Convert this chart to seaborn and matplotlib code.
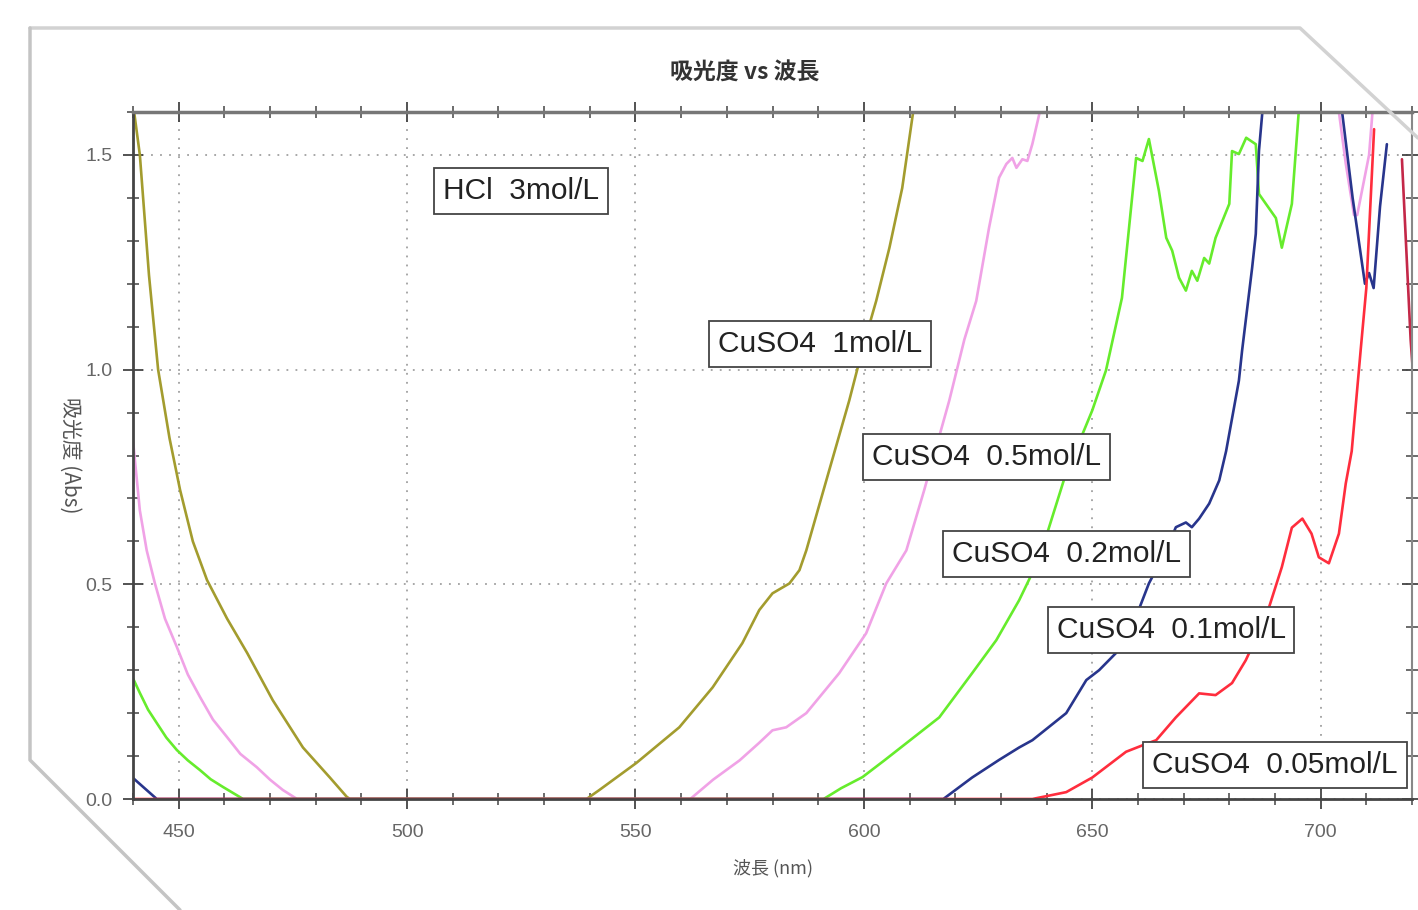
import numpy as np
import pandas as pd
import matplotlib
matplotlib.use('Agg')
import matplotlib.pyplot as plt
from matplotlib.ticker import MultipleLocator, FormatStrFormatter
from matplotlib.lines import Line2D
import seaborn as sns

# absorbance spectra (values above 1.6 run off the top)
wl_1m = [440, 441.5, 443.5, 445.5, 448.0, 450.3, 453.1, 456.2, 460.6, 465.0, 470.6, 477.2, 483.1, 486.8, 487.5,
         539.3, 542.1, 550.2, 559.6, 566.9, 573.4, 577.1, 580.0, 583.7, 585.9, 587.4, 592.4, 596.8,
         600.0, 602.7, 605.6, 608.4, 610.6, 611.5]
abs_1m = [1.62, 1.50, 1.22, 1.00, 0.84, 0.72, 0.60, 0.51, 0.42, 0.34, 0.23, 0.12, 0.05, 0.005, 0.0,
          0.0, 0.021, 0.084, 0.167, 0.26, 0.363, 0.44, 0.479, 0.502, 0.533, 0.579, 0.765, 0.928,
          1.06, 1.16, 1.284, 1.423, 1.586, 1.65]

wl_05m = [440, 441.5, 443, 444.8, 447, 449.6, 452, 454.7, 457.5, 460.6, 463.5, 467.1, 470, 472.8, 475.9,
          562.0, 567, 572.8, 577, 580, 583, 587.4, 594.6, 600.5, 604.9, 609.3, 613.2, 618.7, 622,
          624.6, 627.4, 629.6, 631.2, 632.5, 633.4, 634.7, 635.8, 636.9, 638.4, 640, 702,
          704, 705.5, 707.3, 708, 710.6, 711.5]
abs_05m = [0.835, 0.672, 0.579, 0.502, 0.42, 0.354, 0.29, 0.237, 0.185, 0.144, 0.105, 0.074, 0.045, 0.021, 0.0,
           0.0, 0.045, 0.09, 0.13, 0.16, 0.167, 0.2, 0.293, 0.386, 0.502, 0.579, 0.719, 0.928, 1.07,
           1.16, 1.33, 1.447, 1.479, 1.493, 1.47, 1.49, 1.486, 1.526, 1.595, 1.9, 1.9,
           1.6, 1.48, 1.36, 1.36, 1.5, 1.62]

wl_02m = [440, 441.5, 443.3, 445.2, 447.3, 449.6, 452, 454.7, 457, 459.7, 464.1,
          591.2, 595, 599.7, 604.5, 609.3, 616.5, 623.7, 629, 634, 638.4, 644, 650, 653, 656.5,
          659.6, 661, 662.4, 664.6, 666.2, 667.5, 669, 670.5, 671.8, 673, 674.5, 675.6, 677, 680,
          680.6, 682.1, 683.7, 685.8, 686.5, 690.2, 691.5, 693.7, 695.2, 696]
abs_02m = [0.281, 0.247, 0.208, 0.177, 0.143, 0.114, 0.09, 0.067, 0.046, 0.028, 0.0,
           0.0, 0.025, 0.051, 0.09, 0.13, 0.19, 0.293, 0.37, 0.463, 0.56, 0.75, 0.905, 0.998, 1.167,
           1.493, 1.486, 1.537, 1.416, 1.307, 1.277, 1.214, 1.184, 1.23, 1.207, 1.26, 1.247, 1.307, 1.386,
           1.509, 1.502, 1.54, 1.525, 1.409, 1.353, 1.284, 1.386, 1.6, 1.75]

wl_01m = [440, 445.2, 617.4, 623.7, 629.6, 634, 636.9, 644.3, 648.7, 651.5, 655.2, 658.7, 662.4,
          666.2, 668.3, 670.5, 671.8, 673.4, 675.6, 677.8, 679.3, 682.1, 682.8, 685, 685.8, 686.5,
          687.2, 688, 703.5, 704.7, 707, 709.7, 710.6, 711.6, 713, 714.5]
abs_01m = [0.049, 0.0, 0.0, 0.05, 0.091, 0.12, 0.137, 0.2, 0.277, 0.3, 0.34, 0.4, 0.502,
           0.579, 0.633, 0.644, 0.633, 0.653, 0.688, 0.742, 0.81, 0.974, 1.044, 1.237, 1.316, 1.51,
           1.595, 1.8, 1.8, 1.6, 1.4, 1.2, 1.225, 1.19, 1.38, 1.525]

wl_005m = [440, 636.9, 644.3, 650, 657.4, 661, 664, 668.3, 673.4, 677, 680.6, 683.6, 688, 691.5,
           693.7, 696, 698, 699.6, 701.8, 704, 705.5, 706.8, 708.8, 710, 711.7]
abs_005m = [0.0, 0.0, 0.016, 0.05, 0.11, 0.125, 0.137, 0.19, 0.246, 0.242, 0.27, 0.323, 0.423, 0.54,
            0.632, 0.653, 0.618, 0.563, 0.549, 0.618, 0.735, 0.81, 1.05, 1.19, 1.56]

# short dark-red piece at the right edge
wl_tail = [717.8, 719.7, 720.5]
abs_tail = [1.49, 1.07, 0.95]

series = [
    ('CuSO4 1mol/L', wl_1m, abs_1m),
    ('CuSO4 0.5mol/L', wl_05m, abs_05m),
    ('CuSO4 0.2mol/L', wl_02m, abs_02m),
    ('CuSO4 0.1mol/L', wl_01m, abs_01m),
    ('CuSO4 0.05mol/L', wl_005m, abs_005m),
    ('tail', wl_tail, abs_tail),
]
colors = {
    'CuSO4 1mol/L': '#a39c2e',
    'CuSO4 0.5mol/L': '#f0a2e6',
    'CuSO4 0.2mol/L': '#66ec2c',
    'CuSO4 0.1mol/L': '#28358c',
    'CuSO4 0.05mol/L': '#ff2d3d',
    'tail': '#c42848',
}

label_texts = ['HCl  3mol/L', 'CuSO4  1mol/L', 'CuSO4  0.5mol/L', 'CuSO4  0.2mol/L',
               'CuSO4  0.1mol/L', 'CuSO4  0.05mol/L']
label_pos = [(0.3034, 0.885), (0.537, 0.662), (0.667, 0.498), (0.730, 0.357),
             (0.8116, 0.246), (0.893, 0.0495)]

rows = []
for name, wl, ab in series:
    for x, y in zip(wl, ab):
        rows.append({'wl': x, 'abs': y, 'line': name})
df = pd.DataFrame(rows)

sns.set_style('ticks')
plt.rcParams['font.family'] = ['Noto Sans CJK JP', 'DejaVu Sans']
latin = ['Liberation Sans', 'DejaVu Sans']

fig = plt.figure(figsize=(14.18, 9.10), dpi=100)
fig.patch.set_facecolor('white')

# page frame with cut corners
W, H = 1418, 910
def fx(px): return px / W
def fy(py): return 1 - py / H
fig.add_artist(Line2D([fx(30), fx(1300), fx(1418)], [fy(28), fy(28), fy(138)],
                      color='#d2d2d2', lw=2.5, transform=fig.transFigure))
fig.add_artist(Line2D([fx(30), fx(30), fx(180)], [fy(28), fy(760), fy(910)],
                      color='#c4c4c4', lw=2.5, transform=fig.transFigure))

ax = fig.add_axes([fx(133), fy(799), (1412 - 133) / W, (799 - 112) / H])
sns.lineplot(data=df, x='wl', y='abs', hue='line', palette=colors, estimator=None,
             sort=False, lw=1.9, legend=False, ax=ax)

ax.set_xlim(440, 720)
ax.set_ylim(0, 1.6)
ax.xaxis.set_major_locator(MultipleLocator(50))
ax.xaxis.set_minor_locator(MultipleLocator(10))
ax.yaxis.set_major_locator(MultipleLocator(0.5))
ax.yaxis.set_minor_locator(MultipleLocator(0.1))
ax.yaxis.set_major_formatter(FormatStrFormatter('%.1f'))
ax.tick_params(which='major', direction='inout', length=14, width=1.3, color='#444',
               top=True, right=True, labelsize=14, labelcolor='#666', pad=8)
ax.tick_params(axis='x', which='major', pad=11)
ax.tick_params(which='minor', direction='inout', length=8, width=1.1, color='#444',
               top=True, right=True)
for t in ax.get_xticklabels() + ax.get_yticklabels():
    t.set_family(latin)
ax.grid(True, which='major', color='#a0a0a0', linestyle=(0, (1, 4)), lw=1.3)
for side in ['left', 'bottom']:
    ax.spines[side].set_color('#444')
    ax.spines[side].set_linewidth(2)
ax.spines['top'].set_color('#777')
ax.spines['top'].set_linewidth(2.5)
ax.spines['right'].set_color('#888')
ax.spines['right'].set_linewidth(1.5)
ax.set_xlabel('')
ax.set_ylabel('')

for txt, (x, y) in zip(label_texts, label_pos):
    ax.text(x, y, txt, transform=ax.transAxes, ha='center', va='center', fontsize=21.5,
            family=latin, color='#222', zorder=6,
            bbox=dict(boxstyle='square,pad=0.3', fc='white', ec='#444', lw=1.3))

fig.text(fx(745), fy(73), '吸光度 vs 波長', ha='center', va='center', fontsize=16.5,
         fontweight='bold', color='#333')
fig.text(fx(70), fy(455), '吸光度 (Abs)', ha='center', va='center', rotation=-90,
         fontsize=15, color='#555')
fig.text(fx(773), fy(868), '波長 (nm)', ha='center', va='center', fontsize=13, color='#555')

fig.savefig('out.png', dpi=100)
